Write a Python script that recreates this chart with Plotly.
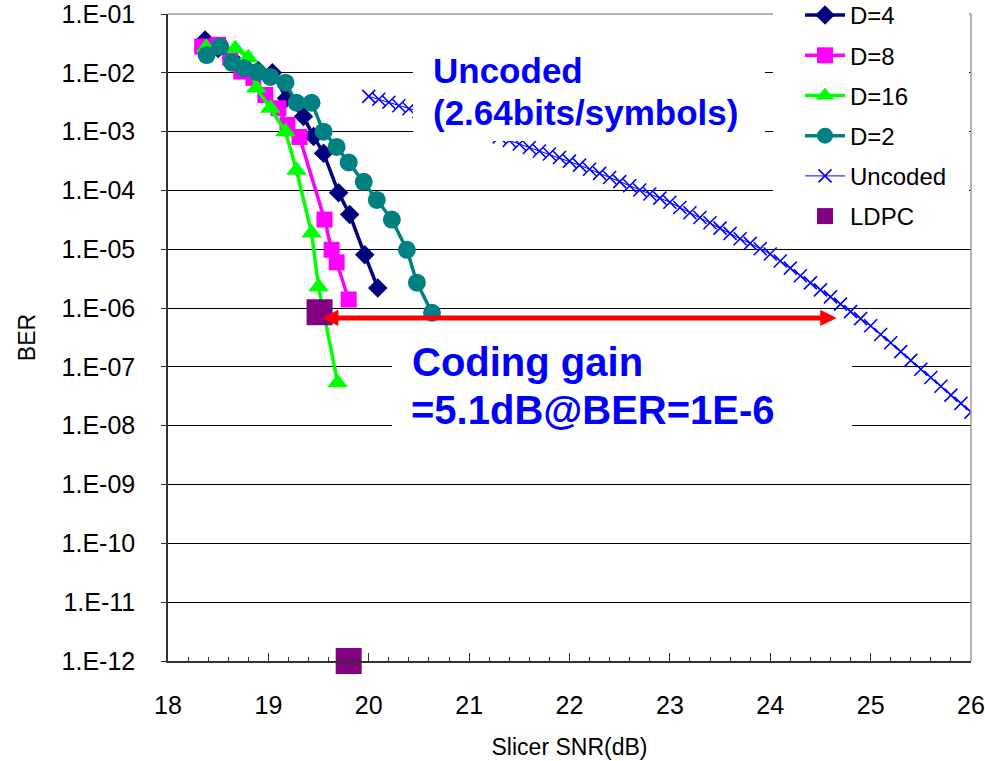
import math
import plotly.graph_objects as go

# ---------------- data ----------------
snr_d4 = [18.37, 18.50, 18.63, 18.76, 18.90, 19.04, 19.18, 19.35, 19.45, 19.55, 19.70, 19.81, 19.96, 20.09]
ber_d4 = [3.6e-2, 2.6e-2, 1.8e-2, 1.3e-2, 1.1e-2, 1.0e-2, 3.7e-3, 1.8e-3, 8.3e-4, 4.3e-4, 9.1e-5, 3.9e-5, 8.1e-6, 2.2e-6]

snr_d8 = [18.34, 18.50, 18.62, 18.73, 18.85, 18.97, 19.10, 19.19, 19.31, 19.56, 19.63, 19.68, 19.80]
ber_d8 = [2.8e-2, 3.0e-2, 1.8e-2, 1.05e-2, 8.2e-3, 4.2e-3, 2.5e-3, 1.3e-3, 8.1e-4, 3.2e-5, 9.8e-6, 6.0e-6, 1.4e-6]

snr_d16 = [18.38, 18.52, 18.67, 18.80, 18.88, 19.02, 19.17, 19.28, 19.43, 19.50, 19.69]
ber_d16 = [2.7e-2, 2.6e-2, 2.6e-2, 1.8e-2, 5.5e-3, 2.5e-3, 1.0e-3, 2.2e-4, 1.9e-5, 2.3e-6, 5.4e-8]

snr_d2 = [18.385, 18.52, 18.64, 18.76, 18.89, 19.02, 19.17, 19.28, 19.43, 19.55, 19.68, 19.80,
          19.95, 20.08, 20.23, 20.38, 20.48, 20.63]
ber_d2 = [2.0e-2, 2.8e-2, 1.48e-2, 1.2e-2, 1.03e-2, 8.5e-3, 6.8e-3, 3.1e-3, 3.1e-3, 1.0e-3, 5.5e-4, 3.0e-4,
          1.4e-4, 6.9e-5, 3.2e-5, 9.8e-6, 2.7e-6, 8.3e-7]

snr_uncoded = [20.0, 20.1, 20.2, 20.3, 20.4, 20.5, 20.6, 20.7, 20.8, 20.9,
               21.0, 21.1, 21.2, 21.3, 21.4, 21.5, 21.6, 21.7, 21.8, 21.9,
               22.0, 22.1, 22.2, 22.3, 22.4, 22.5, 22.6, 22.7, 22.8, 22.9,
               23.0, 23.1, 23.2, 23.3, 23.4, 23.5, 23.6, 23.7, 23.8, 23.9,
               24.0, 24.1, 24.2, 24.3, 24.4, 24.5, 24.6, 24.7, 24.8, 24.9,
               25.0, 25.1, 25.2, 25.3, 25.4, 25.5, 25.6, 25.7, 25.8, 25.9, 26.0]
ber_uncoded = [3.98e-3, 3.55e-3, 3.16e-3, 2.75e-3, 2.45e-3, 2.19e-3, 1.95e-3, 1.74e-3, 1.51e-3, 1.35e-3,
               1.20e-3, 1.05e-3, 9.12e-4, 8.13e-4, 7.08e-4, 6.17e-4, 5.37e-4, 4.68e-4, 4.17e-4, 3.63e-4,
               3.16e-4, 2.69e-4, 2.29e-4, 1.95e-4, 1.66e-4, 1.41e-4, 1.20e-4, 1.02e-4, 8.71e-5, 7.41e-5,
               6.31e-5, 5.13e-5, 4.17e-5, 3.47e-5, 2.82e-5, 2.29e-5, 1.86e-5, 1.51e-5, 1.26e-5, 1.02e-5,
               8.32e-6, 6.31e-6, 4.79e-6, 3.55e-6, 2.69e-6, 2.04e-6, 1.55e-6, 1.17e-6, 8.71e-7, 6.61e-7,
               5.01e-7, 3.55e-7, 2.57e-7, 1.82e-7, 1.29e-7, 9.12e-8, 6.61e-8, 4.68e-8, 3.31e-8, 2.40e-8, 1.70e-8]

snr_ldpc = [19.51, 19.80]
ber_ldpc = [8.5e-7, 1e-12]

# coding-gain arrow: from coded to uncoded SNR at BER ~ 1E-6
gain_snr_start = 19.52
gain_snr_end = 24.66
gain_ber = 6.8e-7

y_tickvals = [1e-1, 1e-2, 1e-3, 1e-4, 1e-5, 1e-6, 1e-7, 1e-8, 1e-9, 1e-10, 1e-11, 1e-12]
y_ticktext = ["1.E-01", "1.E-02", "1.E-03", "1.E-04", "1.E-05", "1.E-06",
              "1.E-07", "1.E-08", "1.E-09", "1.E-10", "1.E-11", "1.E-12"]
x_tickvals = [18, 19, 20, 21, 22, 23, 24, 25, 26]

# ---------------- figure ----------------
W, H = 985, 761
ML, MR, MT, MB = 168, 14, 14, 100
PW, PH = W - ML - MR, H - MT - MB


def px_x(p):
    return (p - ML) / PW


def px_y(p):
    return (H - MB - p) / PH


FONT = "Liberation Sans, Arial, sans-serif"

fig = go.Figure()

fig.add_trace(go.Scatter(
    x=snr_d4, y=ber_d4, name="D=4", mode="lines+markers", legendgroup="a",
    line=dict(color="#000080", width=3.5),
    marker=dict(symbol="diamond", size=15, color="#000080")))
fig.add_trace(go.Scatter(
    x=snr_d8, y=ber_d8, name="D=8", mode="lines+markers", legendgroup="b",
    line=dict(color="#FF00FF", width=3.5),
    marker=dict(symbol="square", size=16, color="#FF00FF")))
fig.add_trace(go.Scatter(
    x=snr_d16, y=ber_d16, name="D=16", mode="lines+markers", legendgroup="c",
    line=dict(color="#00FF00", width=3.5),
    marker=dict(symbol="triangle-up", size=18, color="#00FF00")))
fig.add_trace(go.Scatter(
    x=snr_d2, y=ber_d2, name="D=2", mode="lines+markers", legendgroup="d",
    line=dict(color="#008080", width=3.5),
    marker=dict(symbol="circle", size=18, color="#008080")))
fig.add_trace(go.Scatter(
    x=snr_uncoded, y=ber_uncoded, name="Uncoded", mode="lines+markers", legendgroup="e",
    line=dict(color="#0000FF", width=1),
    marker=dict(symbol="x-thin", size=13, color="#0000FF", line=dict(width=1.6, color="#0000FF"))))
fig.add_trace(go.Scatter(
    x=snr_ldpc, y=ber_ldpc, name="LDPC", mode="markers", legendgroup="f", cliponaxis=False,
    marker=dict(symbol="square", size=26, color="#800080")))

# white boxes behind the texts and legend (hide gridlines / curve parts)
shapes = [
    dict(type="line", xref="paper", yref="paper", x0=0, x1=1, y0=1, y1=1,
         line=dict(color="#9a9a9a", width=1.5), layer="above"),
    dict(type="rect", xref="paper", yref="paper", x0=px_x(413), x1=px_x(765), y0=px_y(141), y1=px_y(40),
         fillcolor="white", line=dict(width=0), layer="above"),
    dict(type="rect", xref="paper", yref="paper", x0=px_x(392), x1=px_x(852), y0=px_y(445), y1=px_y(335),
         fillcolor="white", line=dict(width=0), layer="above"),
    dict(type="rect", xref="paper", yref="paper", x0=px_x(773), x1=px_x(969), y0=px_y(238), y1=px_y(0),
         fillcolor="white", line=dict(width=0), layer="above"),
    dict(type="line", xref="paper", yref="paper", x0=1, x1=1, y0=0, y1=1,
         line=dict(color="#9a9a9a", width=1.5), layer="above"),
]


def text_line(txt, left_px, mid_px, size):
    return dict(xref="paper", yref="paper", x=px_x(left_px), y=px_y(mid_px),
                xanchor="left", yanchor="middle", text="<b>" + txt + "</b>",
                showarrow=False, align="left",
                font=dict(family=FONT, size=size, color="#0000FF"))


annotations = [
    text_line("Uncoded", 431, 70, 35),
    text_line("(2.64bits/symbols)", 431, 113, 35),
    text_line("Coding gain", 410, 362, 40),
    text_line("=5.1dB@BER=1E-6", 409, 410, 40),
    dict(xref="x", yref="y", x=gain_snr_end, y=math.log10(gain_ber),
         axref="x", ayref="y", ax=gain_snr_start, ay=math.log10(gain_ber),
         text="", showarrow=True, arrowside="end+start", arrowhead=2, startarrowhead=2,
         arrowsize=0.65, startarrowsize=0.65, arrowwidth=5, arrowcolor="#FF0000",
         standoff=0, startstandoff=0),
]

fig.update_layout(
    width=W, height=H, template="none",
    margin=dict(l=ML, r=MR, t=MT, b=MB, pad=0, autoexpand=False),
    paper_bgcolor="white", plot_bgcolor="white",
    font=dict(family=FONT, size=22, color="black"),
    showlegend=True,
    legend=dict(x=px_x(800), y=px_y(-7), xanchor="left", yanchor="top",
                bgcolor="rgba(0,0,0,0)", borderwidth=0,
                font=dict(family=FONT, size=24, color="black"),
                traceorder="grouped", tracegroupgap=6, itemwidth=40),
    shapes=shapes,
    annotations=annotations,
)

fig.update_xaxes(
    range=[18, 26], tickvals=x_tickvals, showgrid=False, zeroline=False,
    showline=True, linecolor="#333333", linewidth=1.5, mirror=False,
    ticks="inside", ticklen=8, tickwidth=1, tickcolor="#333333",
    minor=dict(dtick=0.2, ticks="inside", ticklen=4, tickwidth=1, tickcolor="#333333", showgrid=False),
    tickfont=dict(family=FONT, size=25, color="black"), ticklabelstandoff=21,
    ticklabeloverflow="allow",
    title=dict(text="Slicer SNR(dB)", font=dict(family=FONT, size=23, color="black"), standoff=21),
    automargin=False,
)
fig.update_yaxes(
    type="log", range=[-12, -1], tickvals=y_tickvals, ticktext=y_ticktext,
    showgrid=True, gridcolor="black", gridwidth=1, zeroline=False,
    showline=True, linecolor="#333333", linewidth=1.5, mirror=False,
    ticks="outside", ticklen=5, tickwidth=1, tickcolor="#333333",
    tickfont=dict(family=FONT, size=25, color="black"), ticklabelstandoff=21,
    ticklabeloverflow="allow",
    title=dict(text="BER", font=dict(family=FONT, size=23, color="black"), standoff=20),
    automargin=False,
)

fig.write_html("out.html", config={"displayModeBar": False},
               post_script="document.body.style.margin='0px';")
